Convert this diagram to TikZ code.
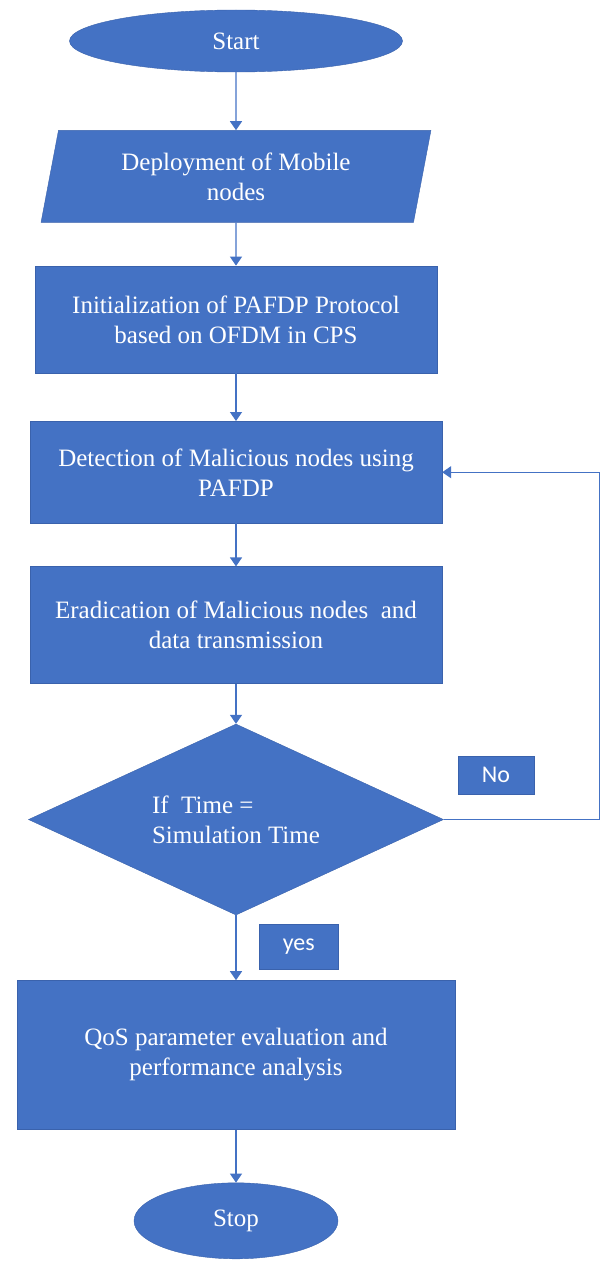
\documentclass[tikz,border=0pt]{standalone}
\usepackage{fontspec}
\setmainfont{Liberation Serif}
\newfontfamily\tagfont{Carlito}
\usetikzlibrary{arrows.meta, positioning, shapes.geometric}
\definecolor{flowblue}{HTML}{4472C4}
\definecolor{edgeblue}{HTML}{3A62AC}

\begin{document}
\begin{tikzpicture}[x=1pt, y=1pt, node distance=45pt, block/.style={rectangle, draw=edgeblue, fill=flowblue, text=white, align=center, font=\fontsize{25}{30}\selectfont, minimum width=412pt}, term/.style={block, ellipse}, io/.style={block, trapezium, trapezium left angle=78, trapezium right angle=102, trapezium stretches=true}, decision/.style={block, diamond, aspect=2.17, inner sep=0pt, align=left}, tag/.style={rectangle, draw=edgeblue, fill=flowblue, text=white, font=\tagfont\fontsize{24}{28}\selectfont, inner sep=0pt}, arrow/.style={-{Triangle[width=12pt,length=9pt]}, draw=flowblue, line width=1.3pt}]
\useasboundingbox (0,0) rectangle (601,-1263);
\node[term, minimum width=333pt, minimum height=62pt] (start) at (236,-41) {Start};
\node[io, below=58pt of start, minimum width=390pt, minimum height=92pt] (deploy) {Deployment of Mobile\\nodes};
\node[block, below=43pt of deploy, minimum width=402pt, minimum height=107pt] (init) {Initialization of PAFDP Protocol\\based on OFDM in CPS};
\node[block, below=48pt of init, minimum height=102pt] (detect) {Detection of Malicious nodes using\\PAFDP};
\node[block, below=43pt of detect, minimum height=117pt] (erad) {Eradication of Malicious nodes~~and\\data transmission};
\node[decision, below=40pt of erad, minimum width=415pt, minimum height=191pt] (check) {If~~Time =\\Simulation Time};
\node[block, below=65pt of check, minimum width=438pt, minimum height=149pt] (qos) {QoS parameter evaluation and\\performance analysis};
\node[term, below=53pt of qos, minimum width=204pt, minimum height=76pt] (stop) {Stop};
\node[tag, above right=25pt and 14pt of check.east, minimum width=76pt, minimum height=38pt] (no) {No};
\node[tag, below right=9pt and 23pt of check.south, minimum width=79pt, minimum height=45pt] (yes) {yes};
\coordinate[right=156pt of check.east] (back);
\draw[arrow] (start) -- (deploy);
\draw[arrow] (deploy) -- (init);
\draw[arrow] (init) -- (detect);
\draw[arrow] (detect) -- (erad);
\draw[arrow] (erad) -- (check);
\draw[arrow] (check) -- (qos);
\draw[arrow] (qos) -- (stop);
\draw[arrow] (check.east) -- (back) |- (detect.east);
\end{tikzpicture}
\end{document}
